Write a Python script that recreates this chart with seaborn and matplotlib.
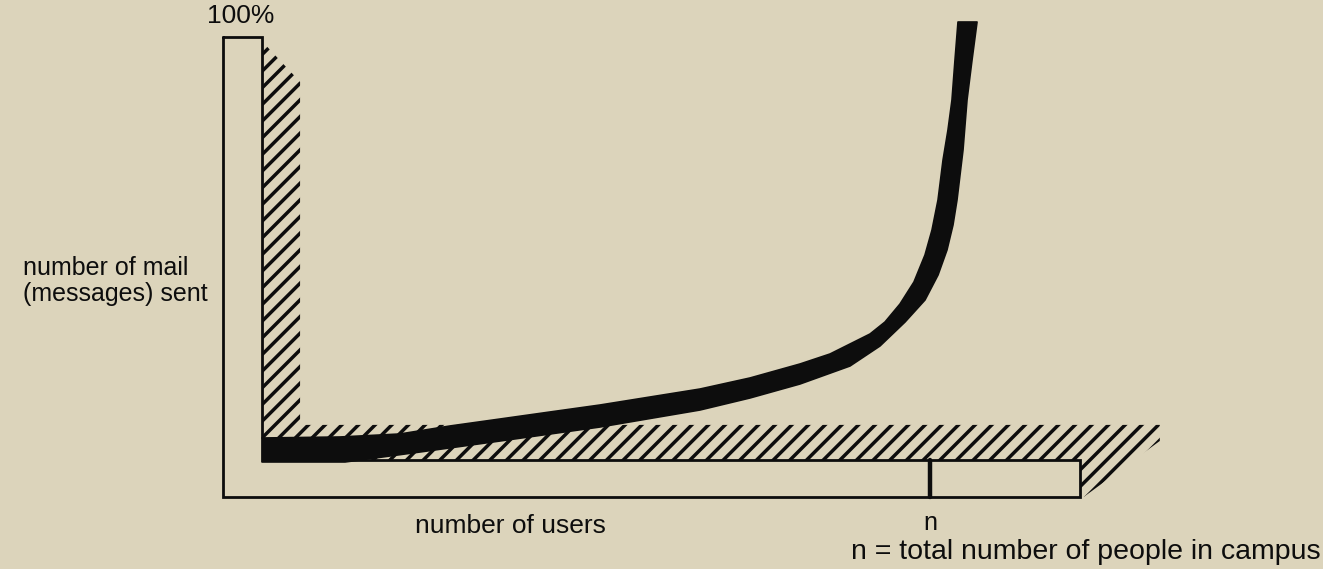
"""
Schematic: mail sent vs. number of users on campus.
"""

import numpy as np
import pandas as pd
import matplotlib.pyplot as plt
import seaborn as sns

# Curve band (x = users as % of n, y = mail sent as %)
upper_x = [0, 11.68, 20.66, 28.14, 35.63, 43.11, 50.60, 58.08, 65.57, 73.05, 80.54, 85.03,
           88.02, 91.02, 93.26, 95.51, 97.60, 99.25, 100.30, 101.20, 101.95, 102.69,
           103.29, 103.74, 104.19]
upper_y = [5.20, 5.44, 6.15, 8.04, 9.69, 11.35, 13.00, 14.89, 16.78, 19.39, 22.70, 25.06,
           27.42, 29.79, 32.62, 36.88, 42.08, 48.46, 54.37, 61.47, 70.92, 78.01,
           85.11, 94.56, 103.55]
lower_x = [0, 12.43, 23.65, 35.63, 50.60, 58.08, 65.57, 73.05, 80.54, 88.02, 92.51, 96.26,
           99.25, 101.20, 102.54, 103.44, 104.04, 104.94, 105.54, 106.29, 107.04]
lower_y = [-0.47, -0.47, 1.89, 4.49, 7.80, 9.81, 11.82, 14.66, 17.97, 22.22, 26.95, 32.62,
           37.83, 43.74, 49.65, 55.56, 61.47, 73.29, 85.11, 94.56, 103.55]

# L-shaped axis frame and its hatched shadow
frame_x = [-5.84, 0, 0, 122.5, 122.5, -5.84, -5.84]
frame_y = [100, 100, 0, 0, -8.75, -8.75, 100]
shadow_x = [0, 5.7, 5.7, 134.4, 134.4, 123.0, 122.5, 122.5, 0]
shadow_y = [99.0, 89.4, 8.3, 8.3, 4.5, -8.75, -8.75, 0, 0]
n_pos = 100

labels = {
    "top": "100%",
    "y": "number of mail\n(messages) sent",
    "x": "number of users",
    "n": "n",
    "note": "n = total number of people in campus",
}

bg = "#dcd4bb"
ink = "#0d0d0d"

sns.set_theme(style="white")
plt.rcParams["font.family"] = ["Liberation Sans", "DejaVu Sans"]
plt.rcParams["hatch.linewidth"] = 2.5

fig = plt.figure(figsize=(13.23, 5.69), dpi=100, facecolor=bg)
ax = fig.add_axes([0, 0, 1, 1])
ax.set_facecolor(bg)
ax.set_xlim(-39.22, 158.83)
ax.set_ylim(-25.77, 108.75)
ax.axis("off")

# hatched shadow
ax.fill(shadow_x, shadow_y, facecolor="none", edgecolor=ink,
        hatch="//", linewidth=0, zorder=1)

# frame
ax.plot(frame_x, frame_y, color=ink, lw=2.0, solid_joinstyle="miter", zorder=3)
ax.plot([n_pos, n_pos], [0, -8.75], color=ink, lw=3.2, zorder=3)

# black band
band = pd.DataFrame({
    "x": upper_x + lower_x[::-1],
    "y": upper_y + lower_y[::-1],
})
ax.fill(band["x"], band["y"], color=ink, lw=0, zorder=2)
sns.lineplot(data=band, x="x", y="y", sort=False, color=ink, lw=1.2,
             estimator=None, ax=ax, zorder=2)

fs = 18
ax.text(-3.2, 105.0, labels["top"], ha="center", va="center", fontsize=fs + 1, color=ink)
ax.text(-35.8, 42.3, labels["y"], ha="left", va="center", fontsize=fs,
        linespacing=1.1, color=ink)
ax.text(22.9, -15.6, labels["x"], ha="left", va="center", fontsize=fs + 1, color=ink)
ax.text(n_pos, -14.8, labels["n"], ha="center", va="center", fontsize=fs, color=ink)
ax.text(158.5, -21.8, labels["note"], ha="right", va="center", fontsize=fs + 2.5, color=ink)

fig.savefig("out.png", dpi=100, facecolor=bg)
